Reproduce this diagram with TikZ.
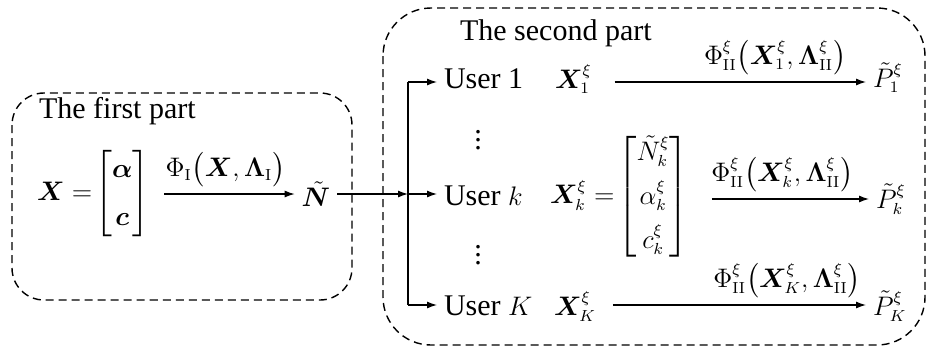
\RequirePackage{fix-cm}
\documentclass[tikz,border=0pt]{standalone}
\usepackage{amsmath}
\usepackage{bm}
\usepackage[no-math]{fontspec}
\setmainfont{Liberation Serif}
\DeclareMathSizes{15}{13.4}{8}{6}
\usetikzlibrary{arrows.meta}
\usetikzlibrary{positioning}

\tikzset{
  part/.style={draw,dash pattern=on 4pt off 2.5pt,line width=0.7pt},
  wire/.style={draw,line width=0.6pt},
  flow/.style={wire,-{Latex[length=5pt,width=3.5pt]}}
}

\begin{document}
\begin{tikzpicture}[x=0.5pt,y=-0.5pt,font=\fontsize{15}{18}\selectfont]
  \useasboundingbox (0,0) rectangle (930,349);

  % the two parts
  \draw [part,rounded corners=16pt] (12,93) rectangle (352,300);
  \draw [part,rounded corners=24pt] (383,8) rectangle (925,345);

  \node [anchor=base west] (first) at (32,118) {The first part};
  \node [anchor=base west] (second) at (453,40) {The second part};

  % first part
  \node [anchor=west] (lhs) at (30,194)
    {$\bm{X}=\!\begin{bmatrix}\bm{\alpha}\\[6pt]\bm{c}\end{bmatrix}$};
  \node (N) at (316,194) {$\tilde{\bm{N}}$};

  % split to the users
  \coordinate (split)   at (408,194);
  \coordinate (split_1) at (408,82);
  \coordinate (split_K) at (408,305);

  \node [anchor=base west] (user_1) at (437,88) {User 1};
  \node [anchor=base west] (user_k) at (437,205) {User $k$};
  \node [anchor=base west] (user_K) at (437,315) {User $K$};
  \node (dots_1) at (478,134) {$\vdots$};
  \node (dots_2) at (478,249) {$\vdots$};

  \node [anchor=base west] (X_1) at (548,88) {$\bm{X}_1^{\xi}$};
  \node [anchor=west] (X_k) at (543,197)
    {$\bm{X}_k^{\xi}=\!\begin{bmatrix}\tilde{N}_k^{\xi}\\[4pt]\alpha_k^{\xi}\\[4pt]c_k^{\xi}\end{bmatrix}$};
  \node [anchor=base west] (X_K) at (547,315) {$\bm{X}_K^{\xi}$};

  \node [anchor=base west] (P_1) at (866,87) {$\tilde{P}_1^{\xi}$};
  \node [anchor=west] (P_k) at (869,199) {$\tilde{P}_k^{\xi}$};
  \node [anchor=base west] (P_K) at (866,315) {$\tilde{P}_K^{\xi}$};

  \path [wire] (split_1) -- (split_K);

  \path [every edge/.style={flow}]
    (lhs.east) edge [shorten <=4pt]
      node [above] {$\Phi_{\mathrm{I}}\bigl(\bm{X},\bm{\Lambda}_{\mathrm{I}}\bigr)$} (N.west)
    (N)       edge (split)
    (split_1) edge (split_1 -| user_1.west)
    (split)   edge (split -| user_k.west)
    (split_K) edge (split_K -| user_K.west)
    (X_1.east |- split_1) edge [shorten <=8pt]
      node [above,pos=0.66] {$\Phi_{\mathrm{II}}^{\xi}\bigl(\bm{X}_1^{\xi},\bm{\Lambda}_{\mathrm{II}}^{\xi}\bigr)$}
      (P_1.west |- split_1)
    (X_k.east |- P_k.west) edge [shorten <=8pt]
      node [above] {$\Phi_{\mathrm{II}}^{\xi}\bigl(\bm{X}_k^{\xi},\bm{\Lambda}_{\mathrm{II}}^{\xi}\bigr)$}
      (P_k.west)
    (X_K.east |- split_K) edge [shorten <=5pt]
      node [above,pos=0.7] {$\Phi_{\mathrm{II}}^{\xi}\bigl(\bm{X}_K^{\xi},\bm{\Lambda}_{\mathrm{II}}^{\xi}\bigr)$}
      (P_K.west |- split_K);
\end{tikzpicture}
\end{document}
